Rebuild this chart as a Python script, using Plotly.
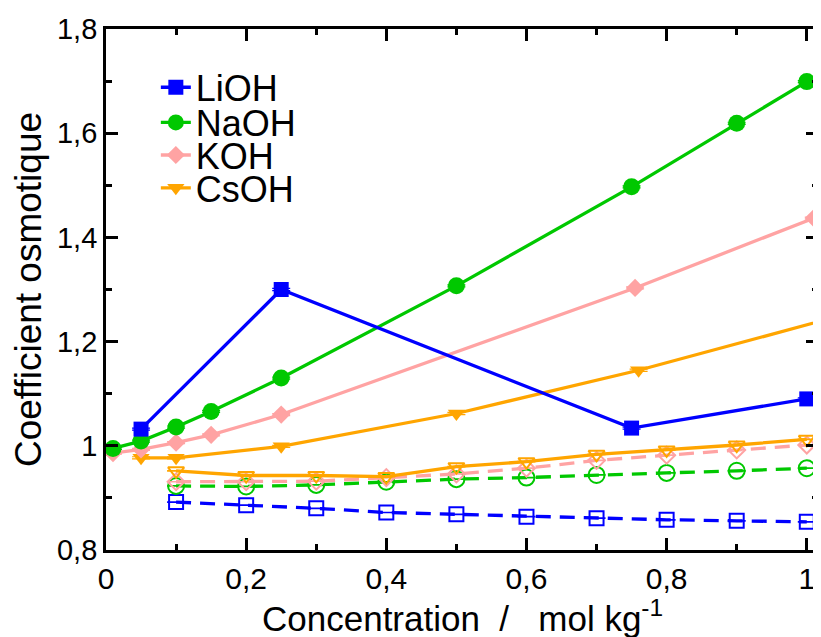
import plotly.graph_objects as go

# ---- data (filled symbols, solid lines) ----
lioh_x = [0.05, 0.25, 0.75, 1.0]
lioh_y = [1.032, 1.300, 1.034, 1.090]

naoh_x = [0.01, 0.05, 0.10, 0.15, 0.25, 0.50, 0.75, 0.90, 1.0]
naoh_y = [0.995, 1.009, 1.036, 1.066, 1.130, 1.307, 1.497, 1.619, 1.699]

koh_x = [0.01, 0.05, 0.10, 0.15, 0.25, 0.755, 1.01]
koh_y = [0.986, 0.993, 1.006, 1.021, 1.060, 1.303, 1.437]

csoh_x = [0.05, 0.10, 0.25, 0.50, 0.76, 1.25]
csoh_y = [0.977, 0.977, 0.999, 1.062, 1.145, 1.323]

# ---- data (open symbols) ----
open_x = [0.1, 0.2, 0.3, 0.4, 0.5, 0.6, 0.7, 0.8, 0.9, 1.0]
lioh_open_y = [0.892, 0.886, 0.880, 0.872, 0.8685, 0.864, 0.861, 0.858, 0.856, 0.854]
naoh_open_y = [0.923, 0.922, 0.925, 0.931, 0.936, 0.939, 0.944, 0.948, 0.952, 0.957]
koh_open_y = [0.931, 0.931, 0.932, 0.939, 0.946, 0.957, 0.972, 0.982, 0.992, 1.0015]
csoh_open_y = [0.952, 0.943, 0.943, 0.941, 0.960, 0.9695, 0.9836, 0.992, 1.0015, 1.0125]

x_ticks = [0, 0.2, 0.4, 0.6, 0.8, 1.0]
x_ticktext = ["0", "0,2", "0,4", "0,6", "0,8", "1"]
y_ticks = [0.8, 1.0, 1.2, 1.4, 1.6, 1.8]
y_ticktext = ["0,8", "1", "1,2", "1,4", "1,6", "1,8"]

BLUE = "#0000FF"
GREEN = "#00C800"
PINK = "#FFA3A3"
ORANGE = "#FFA500"

FONT = "Liberation Sans, Arial, sans-serif"
LW = 3.3

fig = go.Figure()

def err(color, n, v=0.002):
    return dict(type="data", array=[v] * n, visible=True, color=color,
                thickness=1.2, width=9)

# open series first (drawn beneath)
fig.add_trace(go.Scatter(x=open_x, y=lioh_open_y, mode="lines+markers", showlegend=False,
                         line=dict(color=BLUE, width=LW, dash="15px,9px"),
                         marker=dict(symbol="square-open", size=14, color=BLUE, line=dict(width=2)),
                         error_y=err(BLUE, len(open_x), 0.0005)))
fig.add_trace(go.Scatter(x=open_x, y=naoh_open_y, mode="lines+markers", showlegend=False,
                         line=dict(color=GREEN, width=LW, dash="15px,9px"),
                         marker=dict(symbol="circle-open", size=16, color=GREEN, line=dict(width=2)),
                         error_y=err(GREEN, len(open_x), 0.0005)))
fig.add_trace(go.Scatter(x=open_x, y=koh_open_y, mode="lines+markers", showlegend=False,
                         line=dict(color=PINK, width=LW, dash="15px,9px"),
                         marker=dict(symbol="diamond-open", size=13, color=PINK, line=dict(width=2)),
                         error_y=err(PINK, len(open_x), 0.0005)))
fig.add_trace(go.Scatter(x=open_x, y=csoh_open_y, mode="lines+markers", showlegend=False,
                         line=dict(color=ORANGE, width=LW),
                         marker=dict(symbol="triangle-down-open", size=14, color=ORANGE, line=dict(width=2)),
                         error_y=err(ORANGE, len(open_x), 0.0005)))

# filled series
fig.add_trace(go.Scatter(x=csoh_x, y=csoh_y, mode="lines+markers", name="CsOH", legend="legend4",
                         line=dict(color=ORANGE, width=LW),
                         marker=dict(symbol="triangle-down", size=15, color=ORANGE),
                         error_y=err(ORANGE, len(csoh_x))))
fig.add_trace(go.Scatter(x=koh_x, y=koh_y, mode="lines+markers", name="KOH", legend="legend3",
                         line=dict(color=PINK, width=LW),
                         marker=dict(symbol="diamond", size=14, color=PINK),
                         error_y=err(PINK, len(koh_x))))
fig.add_trace(go.Scatter(x=naoh_x, y=naoh_y, mode="lines+markers", name="NaOH", legend="legend2",
                         line=dict(color=GREEN, width=LW),
                         marker=dict(symbol="circle", size=17, color=GREEN),
                         error_y=err(GREEN, len(naoh_x))))
fig.add_trace(go.Scatter(x=lioh_x, y=lioh_y, mode="lines+markers", name="LiOH", legend="legend",
                         line=dict(color=BLUE, width=LW),
                         marker=dict(symbol="square", size=15, color=BLUE),
                         error_y=err(BLUE, len(lioh_x))))

def leg(y):
    return dict(x=0.07, y=y, xanchor="left", yanchor="middle",
                font=dict(family=FONT, size=36, color="black"),
                bgcolor="rgba(0,0,0,0)", borderwidth=0, itemwidth=30)

axis_common = dict(showline=True, linecolor="black", linewidth=2.8, mirror="ticks",
                   ticks="inside", ticklen=12, tickwidth=2.8, tickcolor="black",
                   showgrid=False, zeroline=False, automargin=False)

fig.update_layout(
    width=813, height=629,
    margin=dict(l=98, r=3, t=21, b=87),
    paper_bgcolor="white", plot_bgcolor="white",
    legend=leg(0.888), legend2=leg(0.8205), legend3=leg(0.758), legend4=leg(0.695),
    xaxis=dict(range=[0, 1.016], tickvals=x_ticks, ticktext=x_ticktext,
               tickfont=dict(family=FONT, size=30, color="black"),
               minor=dict(ticks="inside", ticklen=6, tickwidth=2.8, tickcolor="black", dtick=0.1, tick0=0),
               **axis_common),
    yaxis=dict(range=[0.8, 1.8], tickvals=y_ticks, ticktext=y_ticktext,
               tickfont=dict(family=FONT, size=29, color="black"),
               minor=dict(ticks="inside", ticklen=6, tickwidth=2.8, tickcolor="black", dtick=0.1, tick0=0.8),
               title=dict(text="Coefficient osmotique", font=dict(family=FONT, size=37, color="black"),
                          standoff=10),
               **axis_common),
    annotations=[dict(text="Concentration\u00a0\u00a0/\u00a0\u00a0\u00a0mol kg<sup>-1</sup>",
                      xref="paper", yref="paper", x=0.5, y=-0.126, xanchor="center", yanchor="middle",
                      showarrow=False, font=dict(family=FONT, size=35, color="black"))],
)

fig.write_html("out.html")
